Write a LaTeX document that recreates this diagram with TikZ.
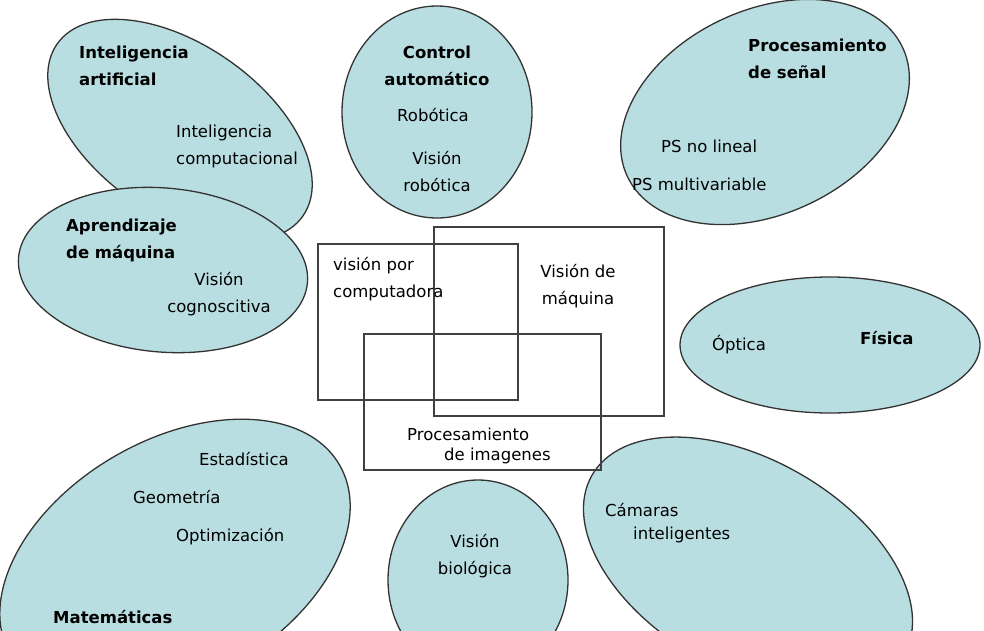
\documentclass[tikz,border=0pt]{standalone}
\usepackage{fontspec}
\setmainfont{DejaVu Sans}
\begin{document}
\begin{tikzpicture}[x=1pt,y=-1pt,
  blob/.style={draw=black!80,line width=1.3pt},
  box/.style={draw=black!75,line width=1.2pt},
  t/.style={anchor=west,inner sep=0pt,font=\fontsize{16.5}{27}\selectfont},
  tc/.style={align=center,inner sep=0pt,font=\fontsize{16.5}{27}\selectfont},
  tb/.style={anchor=west,align=left,inner sep=0pt,font=\fontsize{16.5}{27}\selectfont\bfseries}]
\definecolor{blobc}{HTML}{B9DEE1}
\tikzset{blob/.append style={fill=blobc}}
\useasboundingbox (0,0) rectangle (984,630);
% ellipses
\draw[blob] (180,130) ellipse[x radius=150,y radius=85,rotate=-35] coordinate (ia);
\draw[blob] (163,270) ellipse[x radius=145,y radius=82,rotate=-5] coordinate (am);
\draw[blob] (437,112) ellipse[x radius=95,y radius=106] coordinate (ca);
\draw[blob] (765,112) ellipse[x radius=152,y radius=102,rotate=25] coordinate (ps);
\draw[blob] (830,345) ellipse[x radius=150,y radius=68] coordinate (fi);
\draw[blob] (175,560) ellipse[x radius=190,y radius=120,rotate=30] coordinate (ma);
\draw[blob] (478,580) ellipse[x radius=90,y radius=100] coordinate (vb);
\draw[blob] (748,565) ellipse[x radius=180,y radius=105,rotate=-30] coordinate (ci);
% rectangles
\draw[box] (318,244) rectangle (518,400) coordinate (r1);
\draw[box] (434,227) rectangle (664,416) coordinate (r2);
\draw[box] (364,334) rectangle (601,470) coordinate (r3);
% texts
\node[tb] (n1) at (79,66) {Inteligencia\\artificial};
\node[t] (n2) at (176,133) {Inteligencia};
\node[t] (n3) at (176,160) {computacional};
\node[tb] (n4) at (66,240) {Aprendizaje\\de máquina};
\node[tc] (n5) at (219,294) {Visión\\cognoscitiva};
\node[tc,font=\fontsize{16.5}{27}\selectfont\bfseries] (n6) at (437,66) {Control\\automático};
\node[tc] (n7) at (433,115) {Robótica};
\node[tc] (n8) at (437,172) {Visión\\robótica};
\node[tb] (n9) at (748,59) {Procesamiento\\de señal};
\node[t] (n10) at (661,146) {PS no lineal};
\node[t] (n11) at (632,184) {PS multivariable};
\node[t] (n12) at (712,345) {Óptica};
\node[tb] (n13) at (860,338) {Física};
\node[t,align=left] (n14) at (333,279) {visión por\\computadora};
\node[tc] (n15) at (578,286) {Visión de\\máquina};
\node[t] (n16) at (407,434) {Procesamiento};
\node[t] (n17) at (444,456) {de imagenes};
\node[t] (n18) at (199,459) {Estadística};
\node[t] (n19) at (133,497) {Geometría};
\node[t] (n20) at (176,537) {Optimización};
\node[tb] (n21) at (53,617) {Matemáticas};
\node[tc] (n22) at (475,556) {Visión\\biológica};
\node[t] (n23) at (605,510) {Cámaras};
\node[t] (n24) at (633,535) {inteligentes};
\end{tikzpicture}
\end{document}
